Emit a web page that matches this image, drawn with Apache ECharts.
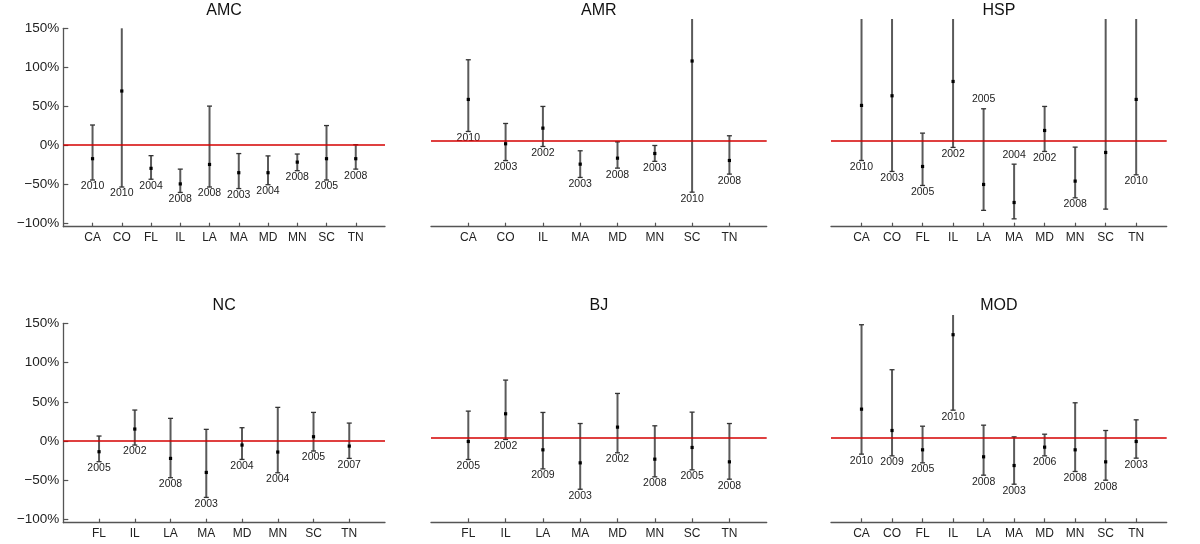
<!DOCTYPE html>
<html>
<head>
<meta charset="utf-8">
<script src="https://cdn.jsdelivr.net/npm/echarts@6/dist/echarts.min.js"></script>
<style>
html,body{margin:0;padding:0;background:#fff;}
#chart{width:1200px;height:544px;}
</style>
</head>
<body>
<div id="chart"></div>
<script>
// ---- DATA (percent) ----
const panelTitles = ['AMC', 'AMR', 'HSP', 'NC', 'BJ', 'MOD'];

const amcCats  = ['CA','CO','FL','IL','LA','MA','MD','MN','SC','TN'];
const amcMean  = [-17.6, 69.4, -30, -50, -25, -35.6, -35.6, -22, -17.6, -17.6];
const amcLow   = [-45, -54, -44, -61, -54, -56, -51, -33, -45, -31];
const amcHigh  = [25.7, 160, -13.7, -31, 50, -11, -14, -11.6, 25, 0.4];
const amcYears = ['2010','2010','2004','2008','2008','2003','2004','2008','2005','2008'];

const amrCats  = ['CA','CO','IL','MA','MD','MN','SC','TN'];
const amrMean  = [53.6, -3.4, 16.7, -29.6, -21.9, -15.9, 103, -24.9];
const amrLow   = [12.4, -25, -6.9, -46.7, -34.7, -26, -65.6, -42.4];
const amrHigh  = [104.6, 22.7, 44.6, -12.4, -0.9, -5.6, 170, 6.9];
const amrYears = ['2010','2003','2002','2003','2008','2003','2010','2008'];

const hspCats  = ['CA','CO','FL','IL','LA','MA','MD','MN','SC','TN'];
const hspMean  = [45.9, 58.3, -32.6, 76.7, -55.7, -78.9, 13.7, -51.4, -14.6, 53.6];
const hspLow   = [-24.9, -39, -57, -8.1, -89, -99.9, -13.3, -72.9, -87.4, -43.3];
const hspHigh  = [170, 170, 10.3, 170, 41.6, -29.6, 44.6, -7.7, 170, 170];
const hspYears = ['2010','2003','2005','2002','2005','2004','2002','2008', null,'2010'];

const ncCats  = ['FL','IL','LA','MA','MD','MN','SC','TN'];
const ncMean  = [-13.6, 15.3, -22.1, -40, -5.1, -14, 5.5, -6.4];
const ncLow   = [-26.3, -5.1, -46.7, -71.8, -23.4, -40.4, -12.7, -22.1];
const ncHigh  = [6.4, 39.5, 28.9, 14.9, 17, 42.9, 36.5, 22.9];
const ncYears = ['2005','2002','2008','2003','2004','2004','2005','2007'];

const bjCats  = ['FL','IL','LA','MA','MD','MN','SC','TN'];
const bjMean  = [-5.1, 30.2, -15.7, -32.3, 13.2, -27.6, -12.7, -31];
const bjLow   = [-28, -2.5, -40, -65.9, -19.5, -50.1, -41.2, -53.1];
const bjHigh  = [33.6, 73.1, 31.9, 17.8, 56.1, 14.9, 32.3, 17.8];
const bjYears = ['2005','2002','2009','2003','2002','2008','2005','2008'];

const modCats  = ['CA','CO','FL','IL','LA','MA','MD','MN','SC','TN'];
const modMean  = [36.1, 8.9, -15.7, 130.9, -24.6, -35.7, -12.3, -15.7, -31, -5.1];
const modLow   = [-21.2, -23.4, -32.3, 34.8, -48, -59.5, -23.4, -43.3, -54.4, -26.3];
const modHigh  = [143.6, 86.3, 14.4, 170, 15.7, 0.8, 4.2, 44.2, 8.9, 22.5];
const modYears = ['2010','2009','2005','2010','2008','2003','2006','2008','2008','2003'];

const yTickValues = [-100, -50, 0, 50, 100, 150];

const panels = [
  {cats: amcCats, mean: amcMean, low: amcLow, high: amcHigh, years: amcYears},
  {cats: amrCats, mean: amrMean, low: amrLow, high: amrHigh, years: amrYears},
  {cats: hspCats, mean: hspMean, low: hspLow, high: hspHigh, years: hspYears},
  {cats: ncCats,  mean: ncMean,  low: ncLow,  high: ncHigh,  years: ncYears},
  {cats: bjCats,  mean: bjMean,  low: bjLow,  high: bjHigh,  years: bjYears},
  {cats: modCats, mean: modMean, low: modLow, high: modHigh, years: modYears}
];

// ---- LAYOUT ----
const layout = [
  {left: 63.3, top: 28.3, width: 321.7, height: 198.4, ymin: -105, ymax: 150, yShow: true},
  {left: 431,  top: 19,   width: 335.7, height: 207.7, ymin: -110, ymax: 157, yShow: false},
  {left: 831,  top: 19,   width: 335.7, height: 207.7, ymin: -110, ymax: 157, yShow: false},
  {left: 63.3, top: 323.3, width: 321.7, height: 199.4, ymin: -104, ymax: 150, yShow: true},
  {left: 431,  top: 315,  width: 335.7, height: 207.3, ymin: -108, ymax: 156, yShow: false},
  {left: 831,  top: 315,  width: 335.7, height: 207.3, ymin: -108, ymax: 156, yShow: false}
];

const titleTop = [2.5, 2.5, 2.5, 298, 298, 298];

const grids = [], xAxes = [], yAxes = [], series = [], titles = [];

panels.forEach((p, i) => {
  const L = layout[i];
  const n = p.cats.length;
  grids.push({left: L.left, top: L.top, width: L.width, height: L.height, containLabel: false});
  titles.push({
    text: panelTitles[i],
    left: L.left + L.width / 2,
    top: titleTop[i],
    padding: 0,
    textAlign: 'center',
    textStyle: {fontFamily: 'Liberation Sans, Arial, sans-serif', fontSize: 16, fontWeight: 'normal', color: '#111'}
  });
  const idx = p.cats.map((c, k) => k + 1);
  xAxes.push({
    type: 'value', gridIndex: i, min: 0, max: n + 1,
    axisLine: {show: true, onZero: false, lineStyle: {color: '#555', width: 1.3}},
    axisTick: {show: true, inside: true, length: 4, customValues: idx, lineStyle: {color: '#555', width: 1.2}},
    axisLabel: {
      customValues: idx, margin: 5,
      formatter: v => p.cats[Math.round(v) - 1] || '',
      fontFamily: 'Liberation Sans, Arial, sans-serif', fontSize: 12, color: '#222'
    },
    splitLine: {show: false}
  });
  yAxes.push({
    type: 'value', gridIndex: i, min: L.ymin, max: L.ymax, show: L.yShow,
    axisLine: {show: true, lineStyle: {color: '#555', width: 1.3}},
    axisTick: {show: true, inside: true, length: 5, customValues: yTickValues, lineStyle: {color: '#555', width: 1.2}},
    axisLabel: {
      customValues: yTickValues, margin: 4,
      formatter: v => (v < 0 ? '\u2212' + Math.abs(v) : v) + '%',
      fontFamily: 'Liberation Sans, Arial, sans-serif', fontSize: 13.5, color: '#222'
    },
    splitLine: {show: false}
  });
  const data = p.cats.map((c, k) => [k + 1, p.mean[k], p.low[k], p.high[k], k]);
  series.push({
    type: 'custom', xAxisIndex: i, yAxisIndex: i,
    data: data,
    renderItem: (params, api) => {
      const cs = params.coordSys;
      const x = api.coord([api.value(0), 0])[0];
      const yMean = api.coord([0, api.value(1)])[1];
      let yLow = api.coord([0, api.value(2)])[1];
      let yHigh = api.coord([0, api.value(3)])[1];
      const top = cs.y, bottom = cs.y + cs.height;
      const highClipped = yHigh < top;
      const lowClipped = yLow > bottom;
      if (highClipped) yHigh = top;
      if (lowClipped) yLow = bottom;
      const cw = 2.5;
      const children = [
        {type: 'line', shape: {x1: x, y1: yLow, x2: x, y2: yHigh}, style: {stroke: '#5a5a5a', lineWidth: 2}},
        {type: 'rect', shape: {x: x - 1.6, y: yMean - 1.6, width: 3.2, height: 3.2}, style: {fill: '#000'}}
      ];
      if (!highClipped) children.push({type: 'line', shape: {x1: x - cw, y1: yHigh, x2: x + cw, y2: yHigh}, style: {stroke: '#333', lineWidth: 1.3}});
      if (!lowClipped) children.push({type: 'line', shape: {x1: x - cw, y1: yLow, x2: x + cw, y2: yLow}, style: {stroke: '#333', lineWidth: 1.3}});
      const k = api.value(4);
      const yr = p.years[k];
      if (yr) {
        const above = api.value(2) < -80;
        children.push({
          type: 'text',
          style: {
            text: yr, x: x, y: above ? yHigh - 4 : yLow + 1,
            align: 'center', verticalAlign: above ? 'bottom' : 'top',
            font: '10.5px "Liberation Sans", Arial, sans-serif', fill: '#222'
          }
        });
      }
      return {type: 'group', children: children};
    },
    markLine: {
      silent: true, symbol: ['none', 'none'], label: {show: false},
      lineStyle: {color: '#d40000', width: 1.5, type: 'solid'},
      data: [{yAxis: 0}],
      animation: false
    },
    z: 3,
    animation: false
  });
});

const chart = echarts.init(document.getElementById('chart'), null, {renderer: 'canvas'});
chart.setOption({
  backgroundColor: '#fff',
  animation: false,
  title: titles,
  grid: grids,
  xAxis: xAxes,
  yAxis: yAxes,
  series: series
});
</script>
</body>
</html>
